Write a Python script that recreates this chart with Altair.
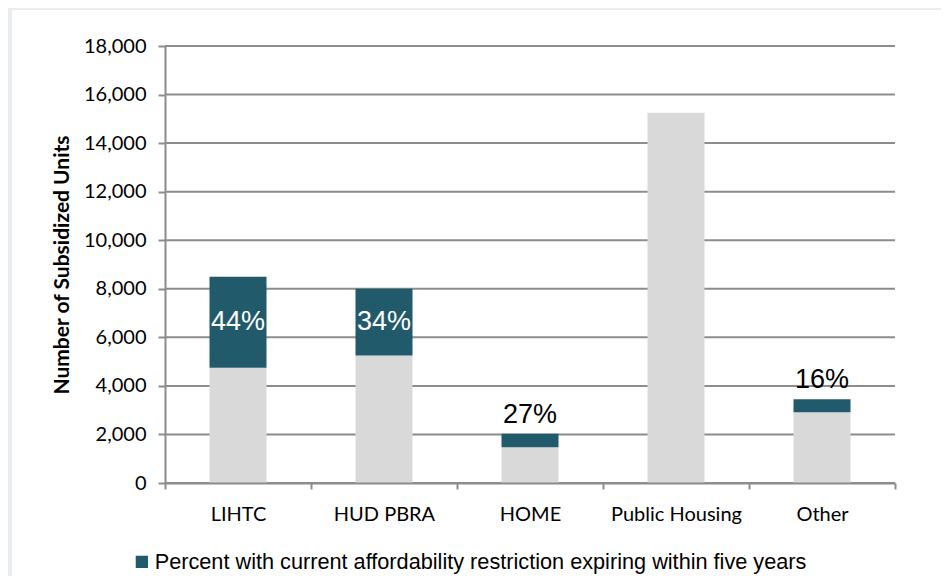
import altair as alt
import pandas as pd

categories = ["LIHTC", "HUD PBRA", "HOME", "Public Housing", "Other"]
total_units = [8500, 8000, 2030, 15250, 3450]
expiring_units = [3750, 2750, 560, 0, 540]
pct_labels = ["44%", "34%", "27%", "", "16%"]
y_ticks = [0, 2000, 4000, 6000, 8000, 10000, 12000, 14000, 16000, 18000]
legend_label = "Percent with current affordability restriction expiring within five years"

DARK = "#215a6b"
GRAY = "#d9d9d9"
LINE = "#8c8c8c"

df = pd.DataFrame({
    "category": categories,
    "total": total_units,
    "expiring": expiring_units,
    "label": pct_labels,
})
df["remaining"] = df["total"] - df["expiring"]
df["series"] = legend_label

ticks_df = pd.DataFrame({"v": y_ticks})

y_scale = alt.Scale(domain=[0, 18000], nice=False, zero=True)
y_axis = alt.Axis(
    title="Number of Subsidized Units", values=y_ticks, format=",d", grid=False,
    domainColor=LINE, domainWidth=2, tickColor=LINE, tickWidth=2, tickSize=7,
    labelPadding=12, labelFont="Lato", labelFontSize=20, labelColor="#000000",
    titleFont="Lato", titleFontSize=21, titleFontWeight="bold", titleColor="#000000",
    titlePadding=11, zindex=1,
)
x_enc = alt.X(
    "category:N", sort=categories,
    scale=alt.Scale(paddingInner=0, paddingOuter=0),
    axis=alt.Axis(
        title=None, labelAngle=0, tickBand="extent", domainColor=LINE, domainWidth=2,
        tickColor=LINE, tickWidth=2, tickSize=6, labelPadding=15,
        labelFont="Lato", labelFontSize=20, labelColor="#000000", zindex=1,
    ),
)

panel = alt.Chart(pd.DataFrame({"a": [1]})).mark_rect(color="#ffffff").encode(
    x=alt.value(-153), x2=alt.value(782), y=alt.value(-36), y2=alt.value(600)
)

grid = alt.Chart(ticks_df).mark_rule(color=LINE, strokeWidth=2).encode(
    y=alt.Y("v:Q", scale=y_scale, axis=y_axis)
)

base = alt.Chart(df)

gray_bars = base.mark_bar(size=57, color=GRAY).encode(
    x=x_enc,
    y=alt.Y("remaining:Q", scale=y_scale, axis=y_axis),
)

dark_bars = base.mark_bar(size=57).encode(
    x=x_enc,
    y=alt.Y("remaining:Q", scale=y_scale, axis=y_axis),
    y2="total:Q",
    color=alt.Color(
        "series:N",
        scale=alt.Scale(domain=[legend_label], range=[DARK]),
        legend=alt.Legend(
            orient="none", legendX=-34, legendY=505, title=None,
            symbolType="square", symbolSize=150, symbolStrokeWidth=0,
            labelFont="Liberation Sans", labelFontSize=21.7, labelColor="#000000",
            labelLimit=2000, labelOffset=2,
        ),
    ),
)

inside_text = base.transform_filter("datum.expiring > 1500").transform_calculate(
    mid="datum.total - datum.expiring / 2"
).mark_text(color="#ffffff", font="Liberation Sans", fontSize=27, baseline="middle").encode(
    x=x_enc,
    y=alt.Y("mid:Q", scale=y_scale, axis=y_axis),
    text="label:N",
)

above_text = base.transform_filter("datum.expiring > 0 && datum.expiring <= 1500").mark_text(
    color="#000000", font="Liberation Sans", fontSize=27, baseline="alphabetic", dy=-11
).encode(
    x=x_enc,
    y=alt.Y("total:Q", scale=y_scale, axis=y_axis),
    text="label:N",
)

chart = alt.layer(panel, grid, gray_bars, dark_bars, inside_text, above_text).properties(
    width=730, height=437,
    autosize=alt.AutoSizeParams(type="none"),
    padding={"left": 157, "top": 38, "right": 46, "bottom": 93},
    background="#e9edf1",
).configure_view(stroke=None)

chart.save("out.html", embed_options={"renderer": "svg", "actions": False})
